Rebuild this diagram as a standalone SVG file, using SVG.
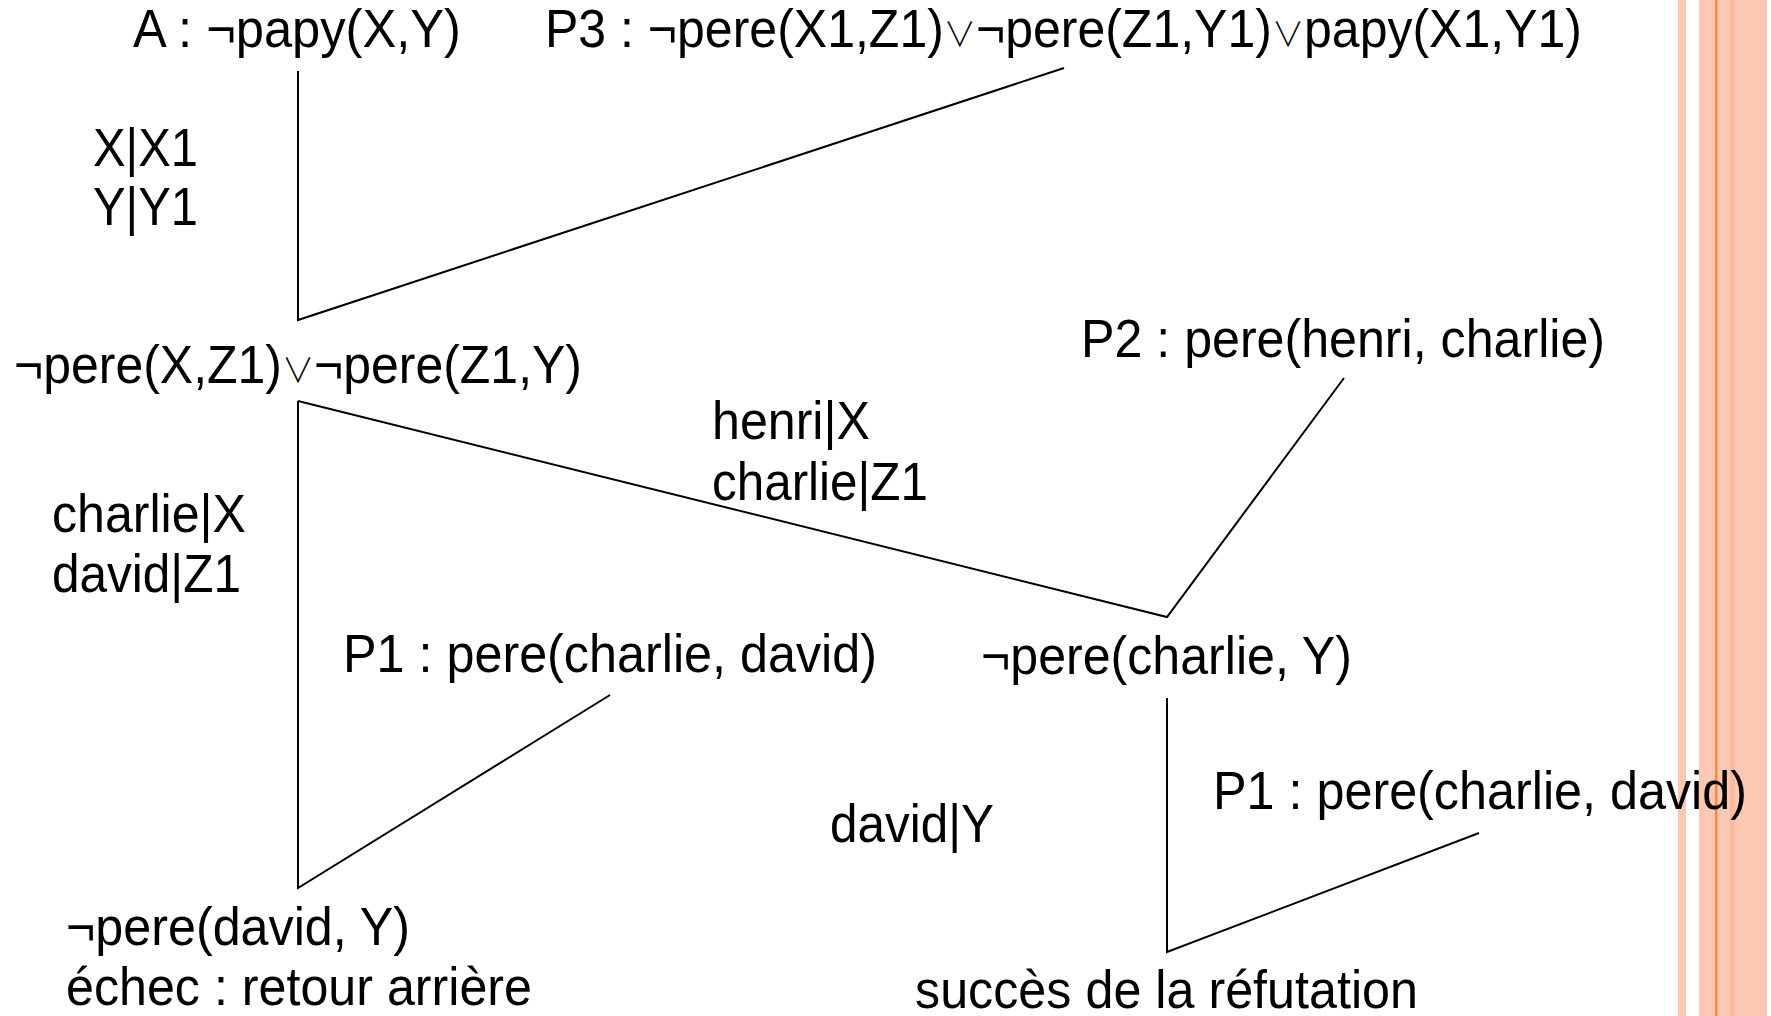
<svg xmlns="http://www.w3.org/2000/svg" width="1771" height="1016" viewBox="0 0 1771 1016">
<style>
text{font-family:"Liberation Sans",Arial,sans-serif;font-size:53px;fill:#000}
.or{font-family:"Noto Sans CJK JP","DejaVu Sans",sans-serif;font-size:34px;font-weight:300}
.e{stroke:#000;stroke-width:2;fill:none;stroke-linejoin:miter}
</style>
<rect x="0" y="0" width="1771" height="1016" fill="#fff"/>
<g id="border">
<rect x="1678" y="0" width="8" height="1016" fill="#FDC8B3"/>
<rect x="1699" y="0" width="68" height="1016" fill="#FDC8B3"/>
<rect x="1715" y="0" width="2.5" height="1016" fill="#F98C3C"/>
<rect x="1730" y="0" width="5" height="1016" fill="#FBBBA0"/>
</g>
<g id="edges">
<polyline class="e" points="298,71 298,320 1064,68"/>
<polyline class="e" points="298,401 1167,617 1344,378"/>
<polyline class="e" points="298,401 298,888 610,695"/>
<polyline class="e" points="1167,698 1167,952 1479,833"/>
</g>
<g id="edge-labels">
<text x="93" y="166" textLength="105" lengthAdjust="spacingAndGlyphs">X|X1</text>
<text x="93" y="225" textLength="105" lengthAdjust="spacingAndGlyphs">Y|Y1</text>
<text x="712" y="439" textLength="158" lengthAdjust="spacingAndGlyphs">henri|X</text>
<text x="712" y="500" textLength="216" lengthAdjust="spacingAndGlyphs">charlie|Z1</text>
<text x="52" y="532" textLength="194" lengthAdjust="spacingAndGlyphs">charlie|X</text>
<text x="52" y="592" textLength="189" lengthAdjust="spacingAndGlyphs">david|Z1</text>
<text x="830" y="842" textLength="164" lengthAdjust="spacingAndGlyphs">david|Y</text>
</g>
<g id="node-A"><text x="133" y="47" textLength="328" lengthAdjust="spacingAndGlyphs">A : ¬papy(X,Y)</text></g>
<g id="node-P3"><text x="545" y="47" textLength="1037" lengthAdjust="spacingAndGlyphs">P3 : ¬pere(X1,Z1)<tspan class="or">∨</tspan>¬pere(Z1,Y1)<tspan class="or">∨</tspan>papy(X1,Y1)</text></g>
<g id="node-R1"><text x="14" y="383" textLength="568" lengthAdjust="spacingAndGlyphs">¬pere(X,Z1)<tspan class="or">∨</tspan>¬pere(Z1,Y)</text></g>
<g id="node-P2"><text x="1081" y="357" textLength="524" lengthAdjust="spacingAndGlyphs">P2 : pere(henri, charlie)</text></g>
<g id="node-P1a"><text x="343" y="672" textLength="534" lengthAdjust="spacingAndGlyphs">P1 : pere(charlie, david)</text></g>
<g id="node-R2"><text x="981" y="674" textLength="371" lengthAdjust="spacingAndGlyphs">¬pere(charlie, Y)</text></g>
<g id="node-P1b"><text x="1213" y="809" textLength="534" lengthAdjust="spacingAndGlyphs">P1 : pere(charlie, david)</text></g>
<g id="node-R3">
<text x="66" y="945" textLength="344" lengthAdjust="spacingAndGlyphs">¬pere(david, Y)</text>
<text x="66" y="1005" textLength="466" lengthAdjust="spacingAndGlyphs">échec : retour arrière</text>
</g>
<g id="node-R4"><text x="915" y="1008" textLength="503" lengthAdjust="spacingAndGlyphs">succès de la réfutation</text></g>
</svg>
